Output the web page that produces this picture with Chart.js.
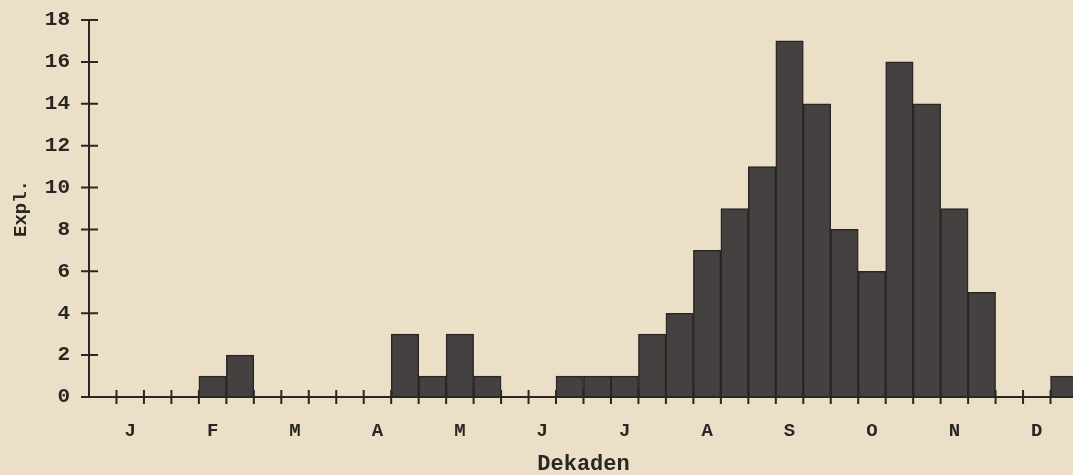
<!DOCTYPE html>
<html lang="de">
<head>
    <meta charset="UTF-8">
    <title>Expl. je Dekade</title>
    <script src="https://cdn.jsdelivr.net/npm/chart.js"></script>
    <style>
        html, body {
            margin: 0;
            padding: 0;
            overflow: hidden;
            background: #ebdfc7;
        }
        #wrap {
            position: relative;
            width: 1080px;
            height: 475px;
        }
    </style>
</head>
<body>
    <div id="wrap">
        <canvas id="chart"></canvas>
    </div>

    <script>
        // 36 Dekaden (3 per month), month letter shown on the middle one
        const months = ['J', 'F', 'M', 'A', 'M', 'J', 'J', 'A', 'S', 'O', 'N', 'D'];
        const decadeLabels = [];
        months.forEach(m => decadeLabels.push('', m, ''));

        // number of specimens per decade
        const counts = [
            0, 0, 0,     // J
            0, 1, 2,     // F
            0, 0, 0,     // M
            0, 0, 3,     // A
            1, 3, 1,     // M
            0, 0, 1,     // J
            1, 1, 3,     // J
            4, 7, 9,     // A
            11, 17, 14,  // S
            8, 6, 16,    // O
            14, 9, 5,    // N
            0, 0, 1      // D
        ];

        const yTicks = [0, 2, 4, 6, 8, 10, 12, 14, 16, 18];

        const INK = '#2a2624';
        const FONT = "'Liberation Mono', 'Courier New', monospace";

        // tick marks that cross the axis lines, placed by the scales
        const crossTicks = {
            id: 'crossTicks',
            afterDraw(chart) {
                const { ctx, scales: { x, y } } = chart;
                ctx.save();
                ctx.strokeStyle = INK;
                ctx.lineWidth = 2;
                ctx.beginPath();
                // axis lines
                ctx.moveTo(x.left, y.top);
                ctx.lineTo(x.left, y.bottom);
                ctx.lineTo(x.right, y.bottom);
                // y ticks
                yTicks.forEach(v => {
                    const py = y.getPixelForValue(v);
                    ctx.moveTo(x.left - 8, py);
                    ctx.lineTo(x.left + 9, py);
                });
                // x ticks at decade boundaries
                for (let i = 1; i <= decadeLabels.length; i++) {
                    const px = x.getPixelForDecimal(i / decadeLabels.length);
                    ctx.moveTo(px, y.bottom - 7);
                    ctx.lineTo(px, y.bottom + 7);
                }
                ctx.stroke();
                ctx.restore();
            }
        };

        new Chart(document.getElementById('chart'), {
            type: 'bar',
            data: {
                labels: decadeLabels,
                datasets: [{
                    data: counts,
                    backgroundColor: '#454140',
                    borderColor: INK,
                    borderWidth: 1.5,
                    barPercentage: 1,
                    categoryPercentage: 1
                }]
            },
            options: {
                responsive: true,
                maintainAspectRatio: false,
                animation: false,
                layout: { padding: { top: 20, right: 2, left: 0, bottom: 0 } },
                plugins: {
                    legend: { display: false },
                    tooltip: { enabled: false }
                },
                scales: {
                    x: {
                        grid: { display: false },
                        border: { display: false },
                        ticks: {
                            autoSkip: false,
                            maxRotation: 0,
                            color: INK,
                            padding: 15,
                            font: { family: FONT, size: 19, weight: 'bold' }
                        },
                        title: {
                            display: true,
                            text: 'Dekaden',
                            color: INK,
                            padding: { top: 0, bottom: -3 },
                            font: { family: FONT, size: 22, weight: 'bold' }
                        },
                        afterFit(scale) { scale.height = 78; }
                    },
                    y: {
                        min: 0,
                        max: 18,
                        grid: { display: false },
                        border: { display: false },
                        afterBuildTicks(scale) {
                            scale.ticks = yTicks.map(v => ({ value: v }));
                        },
                        ticks: {
                            color: INK,
                            padding: 11,
                            font: { family: FONT, size: 21, weight: 'bold' }
                        },
                        title: {
                            display: true,
                            text: 'Expl.',
                            color: INK,
                            padding: { top: 10, bottom: 0 },
                            font: { family: FONT, size: 19, weight: 'bold' }
                        },
                        afterFit(scale) {
                            scale.width = 89;
                            scale.paddingTop = 0;
                            scale.paddingBottom = 0;
                        }
                    }
                }
            },
            plugins: [crossTicks]
        });
    </script>
</body>
</html>
